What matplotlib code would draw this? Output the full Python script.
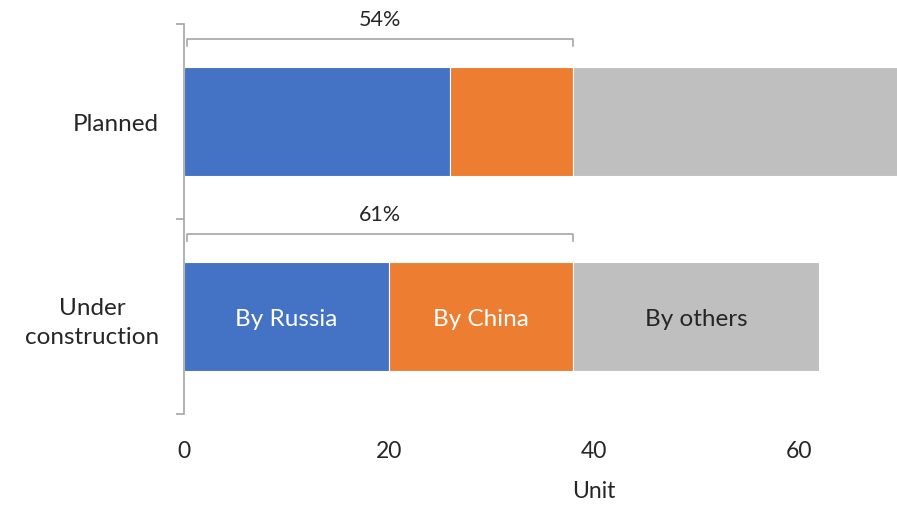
import matplotlib
matplotlib.use("Agg")
import matplotlib.pyplot as plt
from matplotlib.ticker import FixedLocator

plt.rcParams['font.family'] = ['Lato', 'DejaVu Sans']

categories = ["Planned", "Under\nconstruction"]
russia = [26, 20]
china = [12, 18]
others = [32, 24]
series_names = ["By Russia", "By China", "By others"]
shares = ["54%", "61%"]
x_ticks = [0, 20, 40, 60]

colors = ["#4472C4", "#ED7D31", "#BFBFBF"]
text_colors = ["white", "white", "#262626"]

fig = plt.figure(figsize=(8.97, 5.06), dpi=100)
ax = fig.add_axes([184/897, 1 - 415/506, (897-184)/897, 390/506])

ypos = list(range(len(categories)))
left = [0] * len(categories)
for vals, col in zip([russia, china, others], colors):
    ax.barh(ypos, vals, left=left, height=0.564, color=col, edgecolor="white", linewidth=0.8, zorder=2)
    left = [l + v for l, v in zip(left, vals)]

# labels inside bars for "Under construction"
i = 1
starts = [0, russia[i], russia[i] + china[i]]
for s, v, tc, name in zip(starts, [russia[i], china[i], others[i]], text_colors, series_names):
    ax.text(s + v / 2, ypos[i] + 0.01, name, ha="center", va="center", color=tc, fontsize=17.5, zorder=3)

# brackets
for i, sh in enumerate(shares):
    x1 = 0.3
    x2 = russia[i] + china[i]
    yb = ypos[i] - 0.425
    ye = ypos[i] - 0.385
    ax.plot([x1, x1, x2, x2], [ye, yb, yb, ye], color="#A6A6A6", lw=1.2, zorder=3,
            solid_joinstyle="round", clip_on=False)
    ax.text((x1 + x2) / 2, ypos[i] - 0.525, sh, ha="center", va="center", fontsize=15.5,
            color="#262626", clip_on=False)

ax.set_xlim(0, 69.6)
ax.set_ylim(1.5, -0.5)

for sp in ["top", "right", "bottom"]:
    ax.spines[sp].set_visible(False)
ax.spines["left"].set_color("#A6A6A6")
ax.spines["left"].set_linewidth(1.2)

ax.yaxis.set_major_locator(FixedLocator([-0.5, 0.5, 1.5]))
ax.yaxis.set_minor_locator(FixedLocator(ypos))
ax.set_yticklabels(["", "", ""])
labels = ax.set_yticklabels(categories, minor=True, fontsize=17.5, color="#262626", ha="right",
                            linespacing=1.45)
for lab in labels:
    lab.set_multialignment("center")
ax.tick_params(axis="y", which="major", length=6, width=1.2, color="#A6A6A6")
ax.tick_params(axis="y", which="minor", length=0, pad=18)

ax.set_xticks(x_ticks)
ax.set_xticklabels([str(t) for t in x_ticks], fontsize=16.5, color="#262626")
ax.tick_params(axis="x", length=0, pad=19)

ax.set_xlabel("Unit", fontsize=16.5, color="#262626")
ax.xaxis.set_label_coords(40 / 69.6, -0.17)

fig.savefig("out.png", dpi=100)
